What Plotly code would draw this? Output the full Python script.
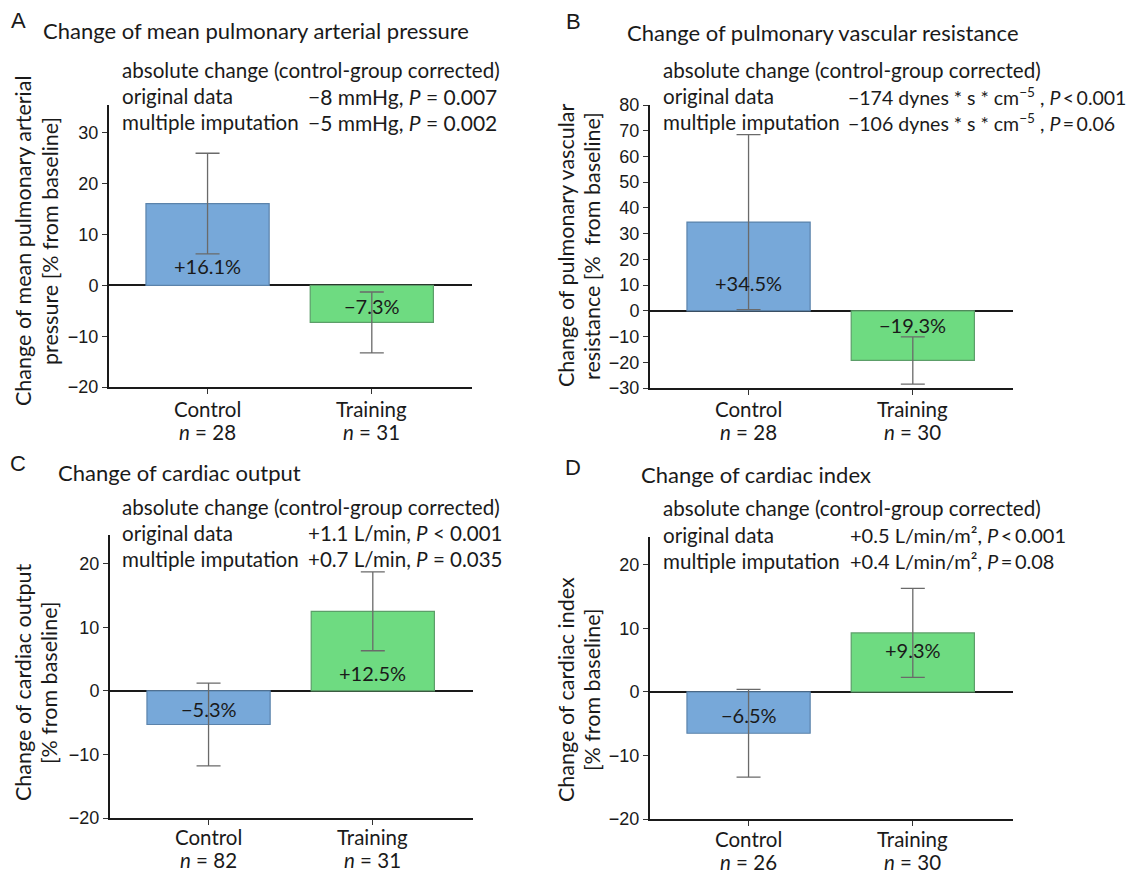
import plotly.graph_objects as go
from plotly.subplots import make_subplots

# page has an 8px body margin; the figure is sized to fit the window
OFF = 8
W, H = 1142 - 2 * OFF, 886 - 2 * OFF

# ---------------- data ----------------
categories = ["Control", "Training"]

mpap_change = [16.1, -7.3]
mpap_err = [9.9, 6.0]
mpap_n = [28, 31]

pvr_change = [34.5, -19.3]
pvr_err = [34.0, 9.2]
pvr_n = [28, 30]

co_change = [-5.3, 12.5]
co_err = [6.5, 6.2]
co_n = [82, 31]

ci_change = [-6.5, 9.3]
ci_err = [6.9, 7.0]
ci_n = [26, 30]

panel_letters = ["A", "B", "C", "D"]
panel_titles = [
    "Change of mean pulmonary arterial pressure",
    "Change of pulmonary vascular resistance",
    "Change of cardiac output",
    "Change of cardiac index",
]
y_titles = [
    "Change of mean pulmonary arterial<br>pressure [% from baseline]",
    "Change of pulmonary vascular<br>resistance [%  from baseline]",
    "Change of cardiac output<br>[% from baseline]",
    "Change of cardiac index<br>[% from baseline]",
]
T = "\u2009"  # thin space
stat_original = [
    "\u22128 mmHg, <i>P</i> = 0.007",
    f"\u2212174 dynes * s * cm<sup>\u22125</sup> , <i>P</i>{T}<{T}0.001",
    "+1.1 L/min, <i>P</i> < 0.001",
    f"+0.5 L/min/m\u00b2, <i>P</i>{T}<{T}0.001",
]
stat_imputed = [
    "\u22125 mmHg, <i>P</i> = 0.002",
    f"\u2212106 dynes * s * cm<sup>\u22125</sup> , <i>P</i>{T}={T}0.06",
    "+0.7 L/min, <i>P</i> = 0.035",
    f"+0.4 L/min/m\u00b2, <i>P</i>{T}={T}0.08",
]

values = [mpap_change, pvr_change, co_change, ci_change]
errors = [mpap_err, pvr_err, co_err, ci_err]
ns = [mpap_n, pvr_n, co_n, ci_n]

# ---------------- layout config (screen pixels) ----------------
y_ranges = [[-20, 35.5], [-30, 80], [-20, 24.5], [-20, 24.4]]
label_y = [[3.8, -4.1], [11, -5.5], [-2.8, 2.8], [-3.6, 6.6]]
boxes = [(109, 472, 105, 387), (650, 1013, 105, 388), (110, 473, 535, 818), (650, 1013, 537, 819)]
letter_pos = [(18, 20), (573, 22), (18, 463), (573, 467)]
title_pos = [(42, 31), (626, 32), (57, 472), (640, 474)]
stat_rows = [(70, 96, 122), (70, 96, 122), (507, 533, 559), (508, 535, 561)]
stat_label_x = [121, 662, 121, 662]
stat_value_x = [307, 847, 307, 849]
stat_value_size = [21, 19.5, 20.5, 20]
ytitle_x = [(23, 50), (566, 592), (23, 49), (566, 592)]
ytitle_cy = [241, 246, 683, 690]
xlabel_rows = [(409, 432), (409, 432), (837, 860), (839, 862)]

fill_colors = ["#77a8d9", "#6edb81"]
edge_colors = ["#5b83ab", "#5c9e69"]
TEXT_FONT = "Lato"
TICK_FONT = "Liberation Sans"
INK = "#1a1a1a"

fig = make_subplots(rows=2, cols=2)


def px(x):
    return (x - OFF) / W


def py(y):
    return 1 - (y - OFF) / H


def note(x, y, text, size, xanchor="left", angle=0, family=TEXT_FONT, xref="paper"):
    return dict(x=x, y=y, xref=xref, yref="paper", text=text, showarrow=False,
                xanchor=xanchor, yanchor="middle", textangle=angle, borderpad=0,
                font=dict(family=family, size=size, color=INK))


annotations = []
for i in range(4):
    r, c = i // 2 + 1, i % 2 + 1
    fig.add_trace(
        go.Bar(
            x=categories,
            y=values[i],
            width=0.75,
            marker=dict(color=fill_colors, line=dict(color=edge_colors, width=1.2)),
            error_y=dict(type="data", array=errors[i], color="#6a6a6a", thickness=1.3, width=12),
            showlegend=False,
            hoverinfo="skip",
        ),
        row=r,
        col=c,
    )
    x0, x1, yt, yb = boxes[i]
    sfx = "" if i == 0 else str(i + 1)
    fig.layout["xaxis" + sfx].update(
        domain=[px(x0), px(x1)],
        range=[-0.6, 1.61],
        showticklabels=False,
        showline=True,
        linecolor=INK,
        linewidth=2,
        ticks="outside",
        ticklen=5,
        tickwidth=1,
        tickcolor="#333",
        showgrid=False,
        zeroline=False,
        automargin=False,
    )
    fig.layout["yaxis" + sfx].update(
        domain=[py(yb), py(yt)],
        range=y_ranges[i],
        dtick=10,
        tick0=0,
        showline=True,
        linecolor=INK,
        linewidth=2,
        ticks="outside",
        ticklen=5,
        tickwidth=1,
        tickcolor="#333",
        tickfont=dict(family=TICK_FONT, size=18, color=INK),
        showgrid=False,
        zeroline=True,
        zerolinecolor=INK,
        zerolinewidth=2,
        automargin=False,
    )
    xref = "x" + sfx
    yref = "y" + sfx
    # bar value labels
    for cat, v, ly in zip(categories, values[i], label_y[i]):
        txt = ("+" if v > 0 else "\u2212") + f"{abs(v):.1f}%"
        annotations.append(dict(x=cat, y=ly, xref=xref, yref=yref, text=txt, showarrow=False,
                                font=dict(family=TEXT_FONT, size=20, color=INK)))
    # category labels with group sizes
    ry1, ry2 = xlabel_rows[i]
    for cat, n in zip(categories, ns[i]):
        annotations.append(note(cat, py(ry1), cat, 20.5, xanchor="center", xref=xref))
        annotations.append(note(cat, py(ry2), f"<i>n</i> = {n}", 20.5, xanchor="center", xref=xref))
    # panel letter and title
    lx, lyy = letter_pos[i]
    annotations.append(note(px(lx), py(lyy), panel_letters[i], 22, xanchor="center", family=TICK_FONT))
    tx, ty = title_pos[i]
    annotations.append(note(px(tx), py(ty), panel_titles[i], 22))
    # statistics block
    r0, r1, r2 = stat_rows[i]
    annotations.append(note(px(stat_label_x[i]), py(r0), "absolute change (control-group corrected)", 20.6))
    annotations.append(note(px(stat_label_x[i]), py(r1), "original data", 20.6))
    annotations.append(note(px(stat_label_x[i]), py(r2), "multiple imputation", 20.6))
    annotations.append(note(px(stat_value_x[i]), py(r1), stat_original[i], stat_value_size[i]))
    annotations.append(note(px(stat_value_x[i]), py(r2), stat_imputed[i], stat_value_size[i]))
    # y axis title (two lines)
    for line, xx in zip(y_titles[i].split("<br>"), ytitle_x[i]):
        annotations.append(note(px(xx), py(ytitle_cy[i]), line, 21.5, xanchor="center", angle=-90))

fig.update_layout(
    width=W,
    height=H,
    margin=dict(l=0, r=0, t=0, b=0, autoexpand=False),
    paper_bgcolor="white",
    plot_bgcolor="white",
    annotations=annotations,
)

fig.write_html("out.html")
